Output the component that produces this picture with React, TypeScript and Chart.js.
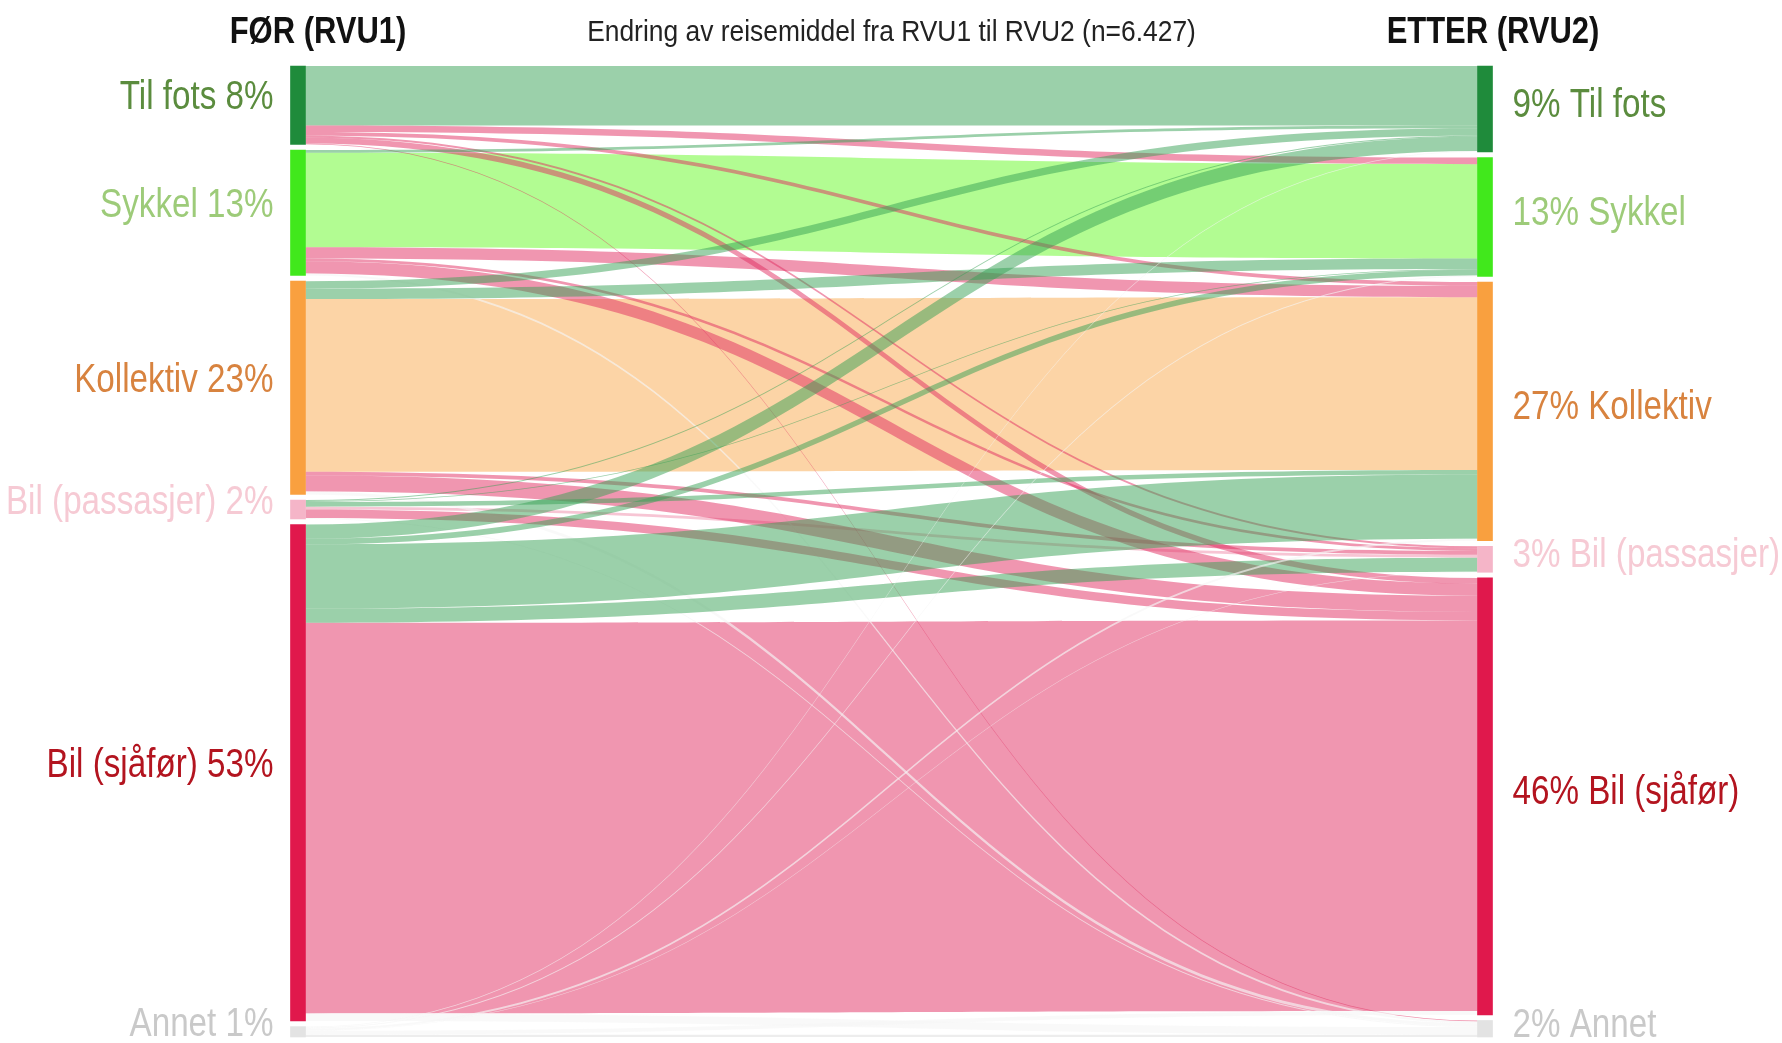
import { useEffect, useRef } from "react";
import { Chart, registerables } from "chart.js";

Chart.register(...registerables);

// Travel modes, in the order used for both columns
const modes = ["Til fots", "Sykkel", "Kollektiv", "Bil (passasjer)", "Bil (sjåfør)", "Annet"];
const periods = ["FØR (RVU1)", "ETTER (RVU2)"];
const chartTitle = "Endring av reisemiddel fra RVU1 til RVU2 (n=6.427)";

// Share of all respondents (%) moving from each RVU1 mode to each RVU2 mode (columns follow `modes`)
const fromTilFots = [6.3, 0.7, 0.4, 0.2, 0.6, 0.1];
const fromSykkel = [0.3, 10.0, 1.2, 0.3, 1.3, 0.2];
const fromKollektiv = [0.8, 1.1, 18.3, 0.4, 1.7, 0.3];
const fromBilPassasjer = [0.1, 0.1, 0.5, 0.3, 0.9, 0.1];
const fromBilSjafor = [1.5, 0.6, 6.8, 1.5, 41.4, 0.8];
const fromAnnet = [0.1, 0.1, 0.2, 0.05, 0.4, 0.25];

const flows = [fromTilFots, fromSykkel, fromKollektiv, fromBilPassasjer, fromBilSjafor, fromAnnet];

// Styling
const nodeColors = ["#1f8b3b", "#41e81c", "#f9a03f", "#f5b5c8", "#e0184c", "#e3e3e3"];
const selfFlowColors = [
  "rgba(55,161,85,0.5)",
  "rgba(101,249,37,0.5)",
  "rgba(249,169,77,0.5)",
  "rgba(240,140,170,0.5)",
  "rgba(225,45,97,0.5)",
  "rgba(225,225,225,0.6)",
];
const towardGreener = "rgba(55,161,85,0.5)";
const towardCar = "rgba(225,45,97,0.5)";
const otherFlow = "rgba(246,246,246,0.65)";
const labelColors = ["#5b8c3e", "#9dcb79", "#d8833f", "#f6cad4", "#b3141f", "#c9c9c9"];
const FONT = '"Liberation Sans", Arial, sans-serif';
const GAP = 0.6;
const BAR = 15;

const sum = (a: number[]) => a.reduce((s, v) => s + v, 0);
const outTotals = flows.map(sum);
const inTotals = modes.map((_, j) => sum(flows.map((r) => r[j])));

function stackStarts(totals: number[]) {
  let acc = 0;
  return totals.map((t) => {
    const s = acc;
    acc += t + GAP;
    return s;
  });
}
const leftStart = stackStarts(outTotals);
const rightStart = stackStarts(inTotals);
const yMax = Math.max(sum(outTotals), sum(inTotals)) + GAP * (modes.length - 1);

type Link = { i: number; j: number; v: number; y0: number; y1: number };
const links: Link[] = [];
{
  const inOffset = modes.map(() => 0);
  flows.forEach((row, i) => {
    let out = 0;
    row.forEach((v, j) => {
      links.push({ i, j, v, y0: leftStart[i] + out, y1: rightStart[j] + inOffset[j] });
      out += v;
      inOffset[j] += v;
    });
  });
}

function linkColor(l: Link) {
  if (l.i === l.j) return selfFlowColors[l.i];
  if (l.i === 5) return otherFlow;
  if (l.j === 5) return l.i === 0 ? towardCar : otherFlow;
  return l.j < l.i ? towardGreener : towardCar;
}

// Condensed text: regular face squeezed horizontally
function drawText(ctx: CanvasRenderingContext2D, text: string, x: number, y: number, align: CanvasTextAlign, sx: number) {
  ctx.save();
  ctx.translate(x, y);
  ctx.scale(sx, 1);
  ctx.textAlign = align;
  ctx.fillText(text, 0, 0);
  ctx.restore();
}

const sankeyPlugin = {
  id: "sankeyFlows",
  beforeDatasetsDraw(chart: any) {
    const { ctx, scales } = chart;
    const xs = scales.x;
    const ys = scales.y;
    const x0 = xs.getPixelForValue(0) + BAR / 2;
    const x1 = xs.getPixelForValue(1) - BAR / 2;
    const xm = (x0 + x1) / 2;
    const ordered = [...links.filter((l) => l.i === l.j), ...links.filter((l) => l.i !== l.j)];
    ctx.save();
    for (const l of ordered) {
      if (l.v <= 0) continue;
      const a0 = ys.getPixelForValue(l.y0);
      const a1 = ys.getPixelForValue(l.y0 + l.v);
      const b0 = ys.getPixelForValue(l.y1);
      const b1 = ys.getPixelForValue(l.y1 + l.v);
      ctx.beginPath();
      ctx.moveTo(x0, a0);
      ctx.bezierCurveTo(xm, a0, xm, b0, x1, b0);
      ctx.lineTo(x1, b1);
      ctx.bezierCurveTo(xm, b1, xm, a1, x0, a1);
      ctx.closePath();
      ctx.fillStyle = linkColor(l);
      ctx.fill();
    }
    ctx.restore();
  },
  afterDatasetsDraw(chart: any) {
    const { ctx, scales } = chart;
    const xs = scales.x;
    const ys = scales.y;
    const cl = xs.getPixelForValue(0);
    const cr = xs.getPixelForValue(1);
    ctx.save();
    ctx.textBaseline = "middle";

    ctx.fillStyle = "#111";
    ctx.font = `bold 36px ${FONT}`;
    drawText(ctx, periods[0], cl + 20, 33, "center", 0.86);
    drawText(ctx, periods[1], cr + 8, 33, "center", 0.86);
    ctx.font = `30px ${FONT}`;
    ctx.fillStyle = "#222";
    drawText(ctx, chartTitle, (cl + cr) / 2, 33, "center", 0.88);

    ctx.font = `40px ${FONT}`;
    modes.forEach((m, k) => {
      ctx.fillStyle = labelColors[k];
      const yl = ys.getPixelForValue(leftStart[k] + outTotals[k] / 2) - 7;
      drawText(ctx, `${m} ${Math.round(outTotals[k])}%`, cl - BAR / 2 - 17, yl, "right", 0.83);
      const yr = ys.getPixelForValue(rightStart[k] + inTotals[k] / 2) - 3;
      drawText(ctx, `${Math.round(inTotals[k])}% ${m}`, cr + BAR / 2 + 20, yr, "left", 0.83);
    });
    ctx.restore();
  },
};

export default function App() {
  const ref = useRef<HTMLCanvasElement>(null);

  useEffect(() => {
    const canvas = ref.current;
    if (!canvas) return;
    const chart = new Chart(canvas, {
      type: "bar",
      data: {
        labels: periods,
        datasets: modes.map((m, k) => ({
          label: m,
          data: [
            [leftStart[k], leftStart[k] + outTotals[k]],
            [rightStart[k], rightStart[k] + inTotals[k]],
          ],
          backgroundColor: nodeColors[k],
          barThickness: BAR,
          grouped: false,
          clip: false,
        })) as any,
      },
      options: {
        responsive: false,
        devicePixelRatio: 1,
        animation: false,
        layout: { padding: { left: 298, right: 297, top: 66, bottom: 6 } },
        scales: {
          x: { type: "category", offset: false, display: false },
          y: { type: "linear", reverse: true, min: 0, max: yMax, display: false },
        },
        plugins: {
          legend: { display: false },
          tooltip: { enabled: false },
        },
      },
      plugins: [sankeyPlugin],
    });
    return () => chart.destroy();
  }, []);

  return (
    <div style={{ position: "fixed", left: 0, top: 0, width: 1782, height: 1043, background: "#fff" }}>
      <canvas ref={ref} width={1782} height={1043} style={{ display: "block" }} />
    </div>
  );
}
